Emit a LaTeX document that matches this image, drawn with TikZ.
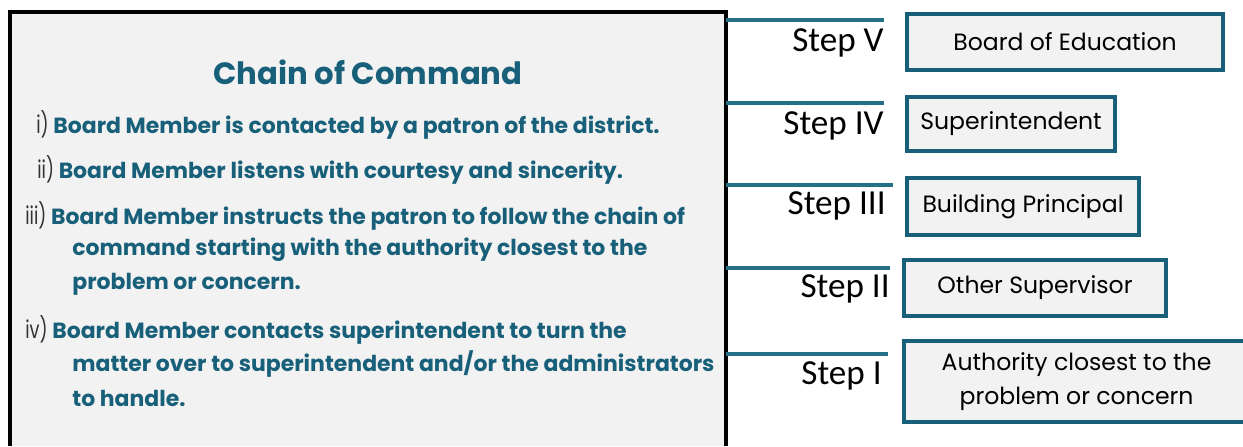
\documentclass[tikz,border=0pt]{standalone}
\usepackage{fontspec}
\setmainfont{Poppins}
\newfontfamily\stepfont{Carlito}
\definecolor{cmdteal}{RGB}{24,96,122}
\definecolor{lineteal}{RGB}{36,112,134}
\definecolor{panelgray}{RGB}{242,242,242}
\definecolor{numgray}{RGB}{50,50,50}
\newcommand{\num}[1]{{\color{numgray}\fontseries{m}\fontsize{14}{16}\selectfont\scalebox{0.72}[1]{#1}}}

\begin{document}
\begin{tikzpicture}[x=0.02cm,y=-0.02cm,
    stepline/.style={draw=lineteal, line width=2.3pt},
    steplabel/.style={anchor=north east, inner sep=0pt, font=\stepfont\fontsize{20}{24}\selectfont},
    levelbox/.style={draw=cmdteal, line width=2.3pt, fill=panelgray, anchor=north west, inner sep=0pt, align=center, font=\fontsize{13.4}{19.3}\selectfont},
    item/.style={anchor=west, inner sep=0pt, text=cmdteal, font=\bfseries\fontsize{12.5}{15}\selectfont}]
  \useasboundingbox (0,0) rectangle (1243,446);
  % left panel
  \fill[panelgray] (10,12) rectangle (726,446);
  \draw[line width=2.5pt] (10,446) -- (10,12) -- (726,12) -- (726,446);
  \coordinate (panel) at (726,12);
  \node[text=cmdteal, font=\bfseries\fontsize{17.5}{20}\selectfont] (title) at (368,72) {Chain of Command};
  \node[item] (i) at (36,125) {\num{i)} Board Member is contacted by a patron of the district.};
  \node[item] (ii) at (37,170) {\num{ii)} Board Member listens with courtesy and sincerity.};
  \node[item] (iii) at (25,216) {\num{iii)} Board Member instructs the patron to follow the chain of};
  \node[item] (iiib) at (72,250) {command starting with the authority closest to the};
  \node[item] (iiic) at (72,284) {problem or concern.};
  \node[item] (iv) at (25,330) {\num{iv)} Board Member contacts superintendent to turn the};
  \node[item] (ivb) at (72,364) {matter over to superintendent and/or the administrators};
  \node[item] (ivc) at (72,398) {to handle.};
  % steps
  \coordinate (e5) at (884,20);
  \coordinate (e4) at (884,103);
  \coordinate (e3) at (893,185);
  \coordinate (e2) at (890,268);
  \coordinate (e1) at (888,354);
  \foreach \s in {1,...,5}
    \draw[stepline] (panel |- e\s) -- (e\s);
  \node[steplabel] (s5) at (884,28) {Step V};
  \node[steplabel] (s4) at (884,111) {Step IV};
  \node[steplabel] (s3) at (886,191) {Step III};
  \node[steplabel] (s2) at (890,274) {Step II};
  \node[steplabel] (s1) at (882,361) {Step I};
  \node[levelbox, minimum width=316*0.02cm, minimum height=56*0.02cm] (b5) at (905,12) {Board of Education};
  \node[levelbox, minimum width=208*0.02cm, minimum height=54*0.02cm] (b4) at (905,95) {Superintendent};
  \node[levelbox, minimum width=232*0.02cm, minimum height=57*0.02cm] (b3) at (905,176) {Building Principal};
  \node[levelbox, minimum width=262*0.02cm, minimum height=56*0.02cm] (b2) at (902,258) {Other Supervisor};
  \node[levelbox, minimum width=345*0.02cm, minimum height=81*0.02cm] (b1) at (902,339) {Authority closest to the\\problem or concern};
\end{tikzpicture}
\end{document}
